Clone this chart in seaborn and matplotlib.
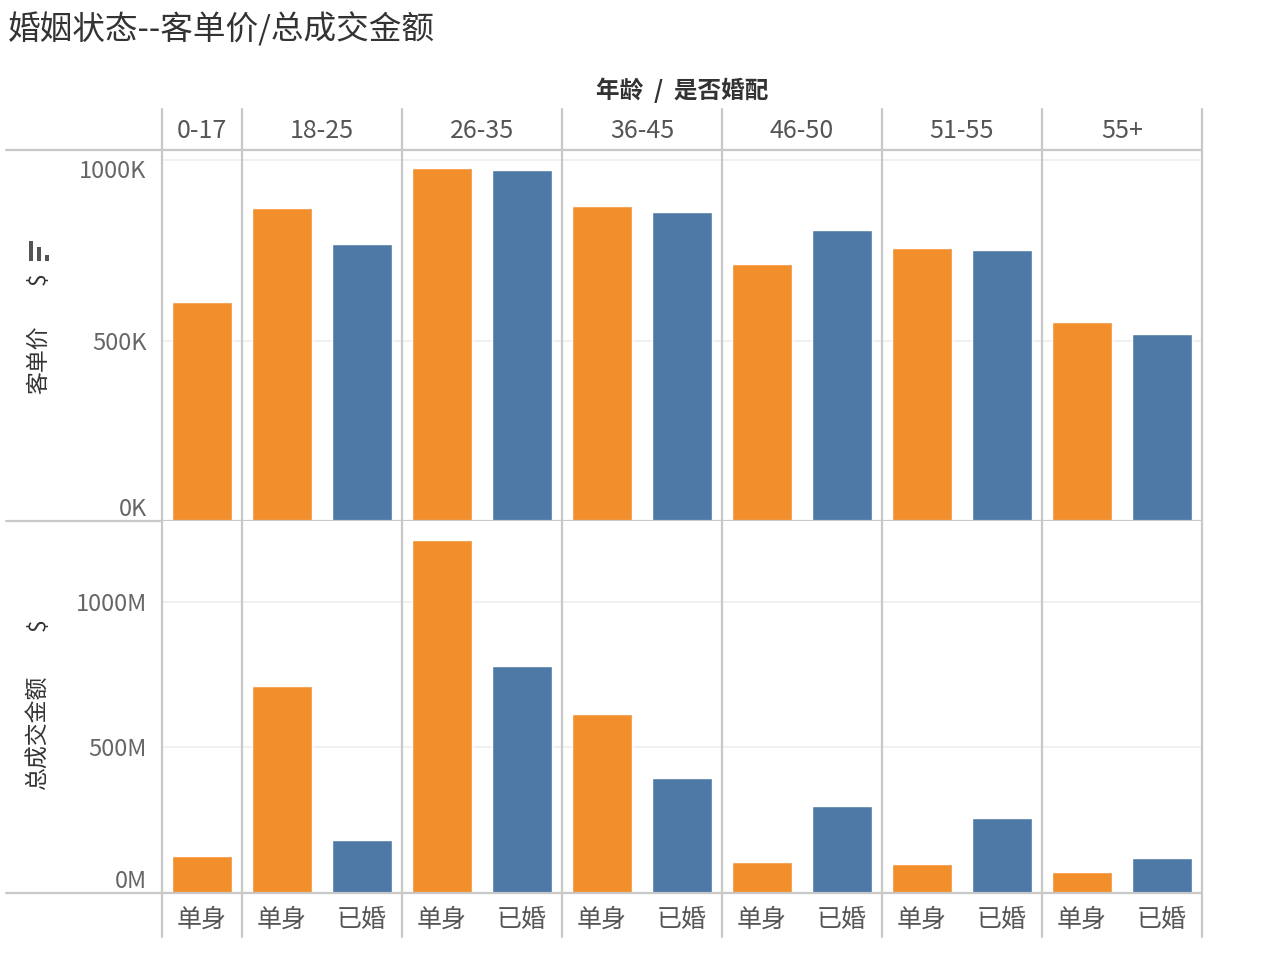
import pandas as pd
import seaborn as sns
import matplotlib.pyplot as plt
from matplotlib.ticker import FuncFormatter
from matplotlib.transforms import blended_transform_factory
from matplotlib.lines import Line2D
from matplotlib.patches import Rectangle

# data
age = ['0-17', '18-25', '18-25', '26-35', '26-35', '36-45', '36-45',
       '46-50', '46-50', '51-55', '51-55', '55+', '55+']
status = ['单身', '单身', '已婚', '单身', '已婚', '单身', '已婚',
          '单身', '已婚', '单身', '已婚', '单身', '已婚']
avg_price_k = [607, 867, 767, 978, 972, 873, 856, 712, 806, 756, 751, 551, 518]
total_m = [127, 711, 182, 1213, 780, 615, 395, 107, 299, 100, 258, 72, 120]

colors = {'单身': '#F28E2B', '已婚': '#4E79A7'}

df = pd.DataFrame({'age': age, 'status': status,
                   'avg_price': avg_price_k, 'total': total_m})
df['slot'] = df['age'] + '|' + df['status']
slots = list(df['slot'])

sns.set_theme(style='white')
plt.rcParams['font.family'] = ['Noto Sans CJK SC', 'DejaVu Sans']

W, H = 1262, 964
fig = plt.figure(figsize=(W / 100, H / 100), dpi=100)
ax1 = fig.add_axes([162 / W, 1 - 521 / H, 1040 / W, 371 / H])
ax2 = fig.add_axes([162 / W, 1 - 893 / H, 1040 / W, 372 / H])

for ax, col in [(ax1, 'avg_price'), (ax2, 'total')]:
    sns.barplot(data=df, x='slot', y=col, hue='status', palette=colors,
                order=slots, dodge=False, width=0.75, saturation=1,
                legend=False, ax=ax)
    ax.set_xlim(-0.5, len(slots) - 0.5)
    ax.set_xlabel('')
    ax.set_ylabel('')
    ax.set_yticks([0, 500, 1000])
    for s in ax.spines.values():
        s.set_visible(False)
    ax.yaxis.grid(True, color='#eeeeee', lw=1.2)
    ax.set_axisbelow(True)
    ax.tick_params(axis='y', length=0, pad=11, labelsize=17, labelcolor='#666666')
    # baseline running into the axis area
    ax.plot([-0.15, 1], [0, 0], transform=ax.get_yaxis_transform(),
            color='#c8c8c8', lw=1.6, clip_on=False, zorder=5)

ax1.set_ylim(0, 1028)
ax2.set_ylim(0, 1278)
ax1.yaxis.set_major_formatter(FuncFormatter(lambda v, p: f'{v:.0f}K'))
ax2.yaxis.set_major_formatter(FuncFormatter(lambda v, p: f'{v:.0f}M'))
for ax in (ax1, ax2):
    ax.get_yticklabels()[0].set_va('bottom')
ax1.get_yticklabels()[-1].set_va('top')

ax1.set_xticks(range(len(slots)))
ax1.tick_params(axis='x', length=0, labelbottom=False)
ax2.set_xticks(range(len(slots)))
ax2.set_xticklabels(status)
ax2.tick_params(axis='x', length=0, pad=10, labelsize=18, labelcolor='#555555')

# header line on top of the upper panel
ax1.plot([-0.15, 1], [1, 1], transform=ax1.transAxes,
         color='#c8c8c8', lw=1.6, clip_on=False, zorder=5)

# group dividers and column headers
tr = blended_transform_factory(ax1.transData, fig.transFigure)
groups = list(dict.fromkeys(age))
bounds = [-0.5]
for g in groups:
    n = age.count(g)
    start = bounds[-1]
    fig.text(start + n / 2, 1 - 131 / H, g, transform=tr, ha='center',
             va='center', fontsize=18, color='#555555')
    bounds.append(start + n)
for b in bounds:
    fig.add_artist(Line2D([b, b], [1 - 937 / H, 1 - 109 / H], transform=tr,
                          color='#c8c8c8', lw=1.6))

# titles
fig.text(8 / W, 1 - 29 / H, '婚姻状态--客单价/总成交金额', fontsize=23.5,
         color='#333333', va='center', ha='left')
fig.text(682 / W, 1 - 90 / H, '年龄  /  是否婚配', fontsize=17, fontweight='bold',
         color='#333333', va='center', ha='center')

# axis titles
fig.text(38 / W, 1 - 360 / H, '客单价', rotation=90, fontsize=16.5,
         color='#333333', va='center', ha='center')
fig.text(38 / W, 1 - 279 / H, '$', rotation=90, fontsize=16.5,
         color='#333333', va='center', ha='center')
for x0, y0, h in [(29, 241, 20), (36.5, 247, 14), (45, 255, 6)]:
    fig.add_artist(Rectangle((x0 / W, 1 - (y0 + h) / H), 4 / W, h / H,
                             transform=fig.transFigure, color='#555555', lw=0))
fig.text(38 / W, 1 - 733 / H, '总成交金额', rotation=90, fontsize=16.5,
         color='#333333', va='center', ha='center')
fig.text(38 / W, 1 - 625 / H, '$', rotation=90, fontsize=16.5,
         color='#333333', va='center', ha='center')

fig.savefig('out.png', dpi=100, facecolor='white')
